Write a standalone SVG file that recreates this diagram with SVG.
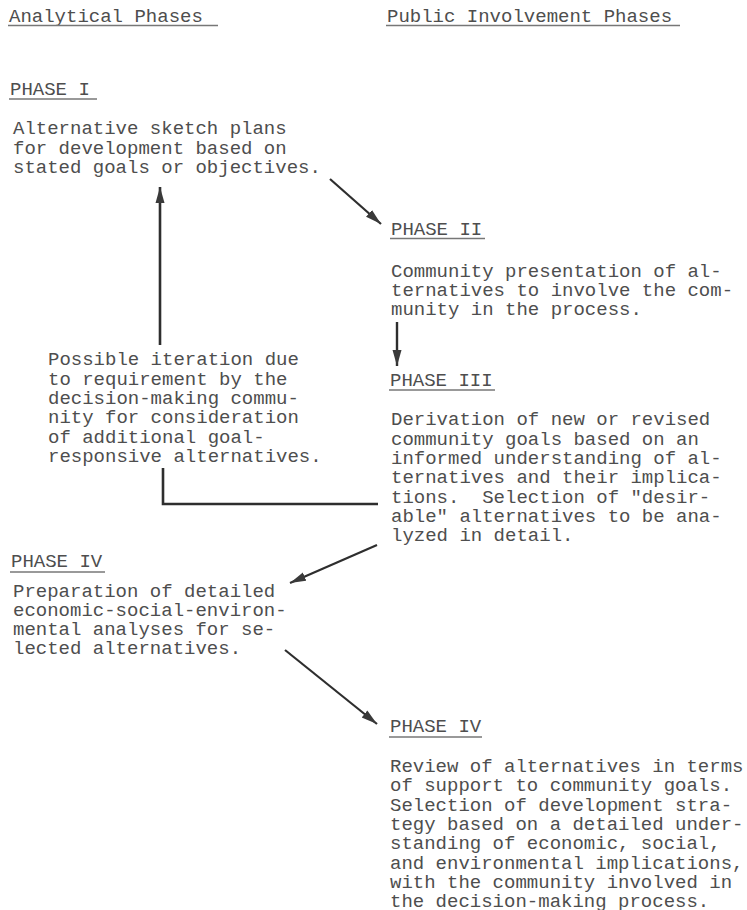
<svg xmlns="http://www.w3.org/2000/svg" width="747" height="910" viewBox="0 0 747 910">
<style>
text{font-family:"Liberation Mono","Courier New",monospace;font-size:19px;fill:#4e4e4e;white-space:pre}
.ul{stroke:#777;stroke-width:1.6}
.c{stroke:#2e2e2e;fill:none}
</style>
<defs>
<marker id="ah" markerUnits="userSpaceOnUse" markerWidth="18" markerHeight="12" refX="16" refY="5" orient="auto">
<path d="M0,0.5 L16,5 L0,9.5 Z" fill="#3a3a3a"/>
</marker>
</defs>
<rect width="747" height="910" fill="#ffffff"/>
<g id="header-analytical">
<text x="9" y="22">Analytical Phases</text>
<line class="ul" x1="8" y1="25.5" x2="218" y2="25.5"/>
</g>
<g id="header-public">
<text x="387" y="22">Public Involvement Phases</text>
<line class="ul" x1="386" y1="25.5" x2="680" y2="25.5"/>
</g>
<g id="phase1">
<text x="10" y="95">PHASE I</text>
<line class="ul" x1="9" y1="99" x2="97" y2="99"/>
<text x="13" y="134">Alternative sketch plans</text>
<text x="13" y="153.5">for development based on</text>
<text x="13" y="173">stated goals or objectives.</text>
</g>
<g id="phase2">
<text x="391" y="235">PHASE II</text>
<line class="ul" x1="390" y1="238.5" x2="485" y2="238.5"/>
<text x="391" y="277">Community presentation of al-</text>
<text x="391" y="296">ternatives to involve the com-</text>
<text x="391" y="315">munity in the process.</text>
</g>
<g id="phase3">
<text x="390" y="386">PHASE III</text>
<line class="ul" x1="389" y1="390" x2="495" y2="390"/>
<text x="391" y="425">Derivation of new or revised</text>
<text x="391" y="444.5">community goals based on an</text>
<text x="391" y="464">informed understanding of al-</text>
<text x="391" y="483">ternatives and their implica-</text>
<text x="391" y="502.5">tions.  Selection of "desir-</text>
<text x="391" y="522">able" alternatives to be ana-</text>
<text x="391" y="541">lyzed in detail.</text>
</g>
<g id="iteration-note">
<text x="48" y="365">Possible iteration due</text>
<text x="48" y="384.5">to requirement by the</text>
<text x="48" y="404">decision-making commu-</text>
<text x="48" y="423">nity for consideration</text>
<text x="48" y="442.5">of additional goal-</text>
<text x="48" y="462">responsive alternatives.</text>
</g>
<g id="phase4-analytical">
<text x="11" y="567">PHASE IV</text>
<line class="ul" x1="10" y1="572" x2="105" y2="572"/>
<text x="13" y="597">Preparation of detailed</text>
<text x="13" y="616">economic-social-environ-</text>
<text x="13" y="635">mental analyses for se-</text>
<text x="13" y="654">lected alternatives.</text>
</g>
<g id="phase4-public">
<text x="390" y="732">PHASE IV</text>
<line class="ul" x1="389" y1="737" x2="482" y2="737"/>
<text x="390" y="772">Review of alternatives in terms</text>
<text x="390" y="791">of support to community goals.</text>
<text x="390" y="810.5">Selection of development stra-</text>
<text x="390" y="830">tegy based on a detailed under-</text>
<text x="390" y="849">standing of economic, social,</text>
<text x="390" y="868.5">and environmental implications,</text>
<text x="390" y="888">with the community involved in</text>
<text x="390" y="907">the decision-making process.</text>
</g>
<g id="connectors">
<line class="c" stroke-width="2.2" x1="330" y1="179" x2="381" y2="224" marker-end="url(#ah)"/>
<line class="c" stroke-width="2.4" x1="397" y1="322" x2="397" y2="366" marker-end="url(#ah)"/>
<line class="c" stroke-width="2.6" x1="160" y1="345" x2="160" y2="187" marker-end="url(#ah)"/>
<polyline class="c" stroke-width="2.6" points="163,468 163,504 378,504"/>
<line class="c" stroke-width="2.2" x1="377" y1="545" x2="290" y2="583" marker-end="url(#ah)"/>
<line class="c" stroke-width="2.2" x1="285" y1="650" x2="377" y2="724" marker-end="url(#ah)"/>
</g>
</svg>
